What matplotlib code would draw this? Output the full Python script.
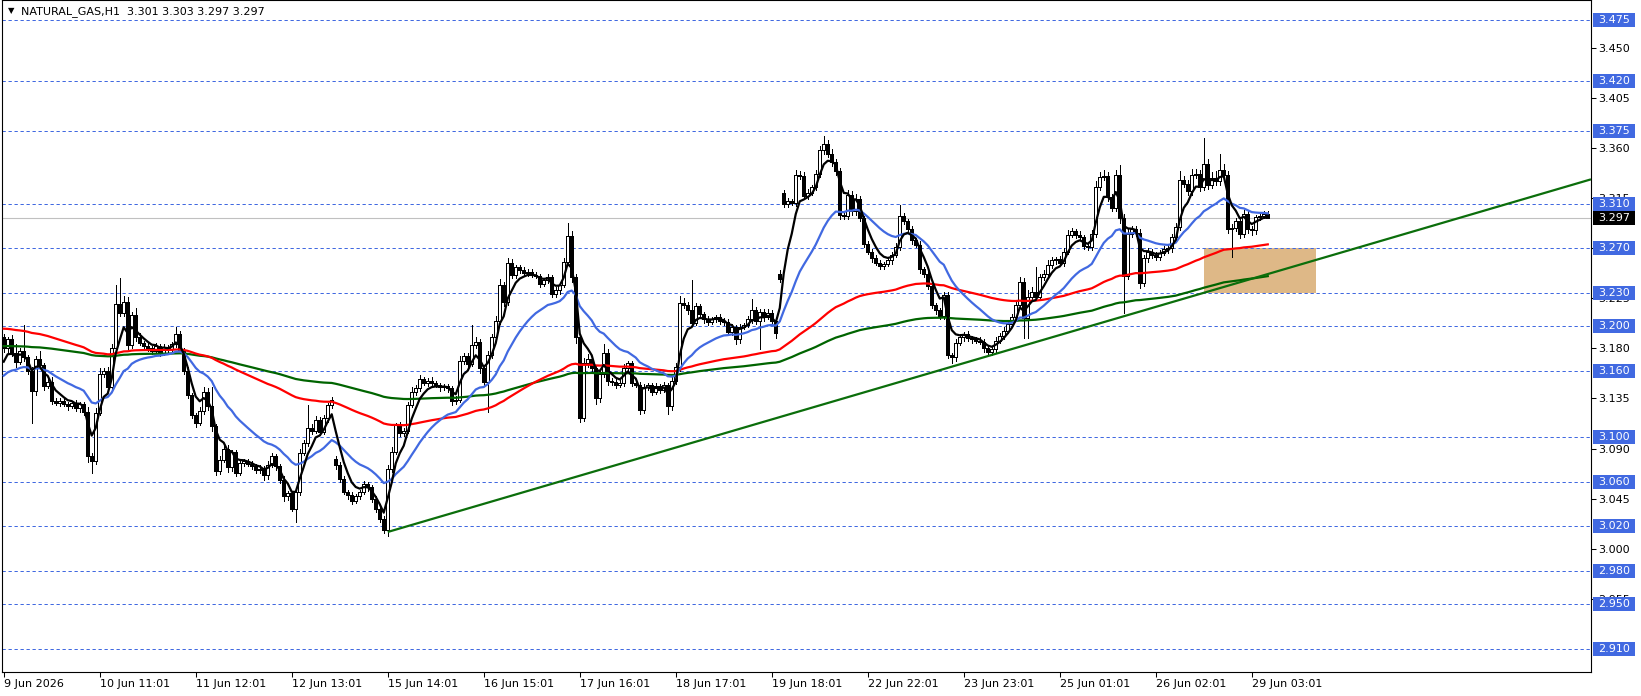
import matplotlib
matplotlib.use('Agg')
import matplotlib.pyplot as plt
import matplotlib.transforms as mtransforms
from matplotlib.patches import Rectangle
import numpy as np

# hourly closes, NATURAL_GAS H1 (bar 0 = 9 Jun 2026)
closes = [
    3.180, 3.188, 3.176, 3.168, 3.178, 3.172, 3.160, 3.142, 3.170, 3.165,
    3.146, 3.150, 3.133, 3.131, 3.133, 3.130, 3.128, 3.131, 3.126, 3.130,
    3.123, 3.083, 3.079, 3.122, 3.157, 3.160, 3.145, 3.180, 3.220, 3.212,
    3.222, 3.183, 3.210, 3.190, 3.185, 3.182, 3.180, 3.178, 3.182, 3.176,
    3.181, 3.179, 3.184, 3.193, 3.178, 3.160, 3.138, 3.120, 3.113, 3.124,
    3.141, 3.128, 3.110, 3.070, 3.080, 3.090, 3.073, 3.087, 3.068, 3.077,
    3.079, 3.076, 3.074, 3.071, 3.072, 3.066, 3.075, 3.083, 3.074, 3.062,
    3.047, 3.050, 3.036, 3.051, 3.086, 3.095, 3.108, 3.106, 3.116, 3.105,
    3.117, 3.129, 3.134, 3.075, 3.063, 3.051, 3.048, 3.043, 3.047, 3.051,
    3.058, 3.055, 3.045, 3.036, 3.027, 3.017, 3.072, 3.087, 3.111, 3.104,
    3.106, 3.129, 3.141, 3.144, 3.152, 3.149, 3.151, 3.149, 3.147, 3.145,
    3.146, 3.144, 3.133, 3.134, 3.169, 3.173, 3.166, 3.183, 3.186, 3.162,
    3.150, 3.174, 3.190, 3.205, 3.237, 3.222, 3.257, 3.246, 3.253, 3.250,
    3.248, 3.249, 3.246, 3.245, 3.238, 3.241, 3.244, 3.229, 3.232, 3.237,
    3.258, 3.281, 3.244, 3.190, 3.117, 3.167, 3.170, 3.162, 3.135, 3.157,
    3.176, 3.151, 3.150, 3.147, 3.149, 3.162, 3.167, 3.149, 3.147, 3.125,
    3.145, 3.147, 3.141, 3.146, 3.143, 3.147, 3.128, 3.151, 3.163, 3.221,
    3.219, 3.214, 3.203, 3.218, 3.211, 3.206, 3.204, 3.206, 3.208, 3.205,
    3.204, 3.195, 3.199, 3.188, 3.199, 3.201, 3.206, 3.214, 3.205, 3.213,
    3.208, 3.212, 3.205, 3.194, 3.242, 3.310, 3.312, 3.311, 3.336, 3.335,
    3.317, 3.320, 3.325, 3.337, 3.358, 3.364, 3.355, 3.347, 3.339, 3.300,
    3.299, 3.318, 3.303, 3.314, 3.297, 3.274, 3.267, 3.261, 3.257, 3.254,
    3.256, 3.259, 3.264, 3.271, 3.299, 3.294, 3.287, 3.277, 3.273, 3.251,
    3.247, 3.236, 3.219, 3.214, 3.209, 3.228, 3.174, 3.172, 3.185, 3.190,
    3.193, 3.189, 3.188, 3.187, 3.186, 3.180, 3.177, 3.179, 3.187, 3.191,
    3.196, 3.202, 3.208, 3.219, 3.240, 3.207, 3.226, 3.231, 3.226, 3.244,
    3.247, 3.255, 3.259, 3.260, 3.257, 3.267, 3.282, 3.285, 3.282, 3.280,
    3.272, 3.271, 3.283, 3.325, 3.334, 3.335, 3.316, 3.306, 3.336, 3.297,
    3.245, 3.283, 3.287, 3.284, 3.239, 3.261, 3.267, 3.264, 3.262, 3.266,
    3.269, 3.270, 3.280, 3.289, 3.331, 3.328, 3.321, 3.336, 3.337, 3.325,
    3.346, 3.327, 3.333, 3.330, 3.340, 3.336, 3.287, 3.288, 3.294, 3.283,
    3.301, 3.287, 3.286, 3.298, 3.299, 3.301, 3.297,
]
# opens follow the previous close except on these bars (first bar, gaps)
open_fix = {0: 3.190, 83: 3.081, 194: 3.247, 195: 3.320}

# wick lengths beyond the body, in 0.001
wick_up = [
    3, 2, 4, 8, 2, 23, 2, 3, 3, 8,   2, 3, 4, 2, 2, 3, 2, 2, 3, 2,
    2, 4, 3, 4, 5, 2, 3, 4, 17, 23,  5, 4, 3, 6, 4, 2, 3, 2, 3, 2,
    3, 2, 2, 6, 3, 2, 3, 2, 2, 3,    4, 3, 17, 2, 3, 4, 3, 2, 2, 3,
    2, 2, 3, 2, 3, 2, 4, 3, 2, 2,    3, 2, 2, 3, 4, 3, 21, 4, 3, 2,
    3, 2, 2, 2, 3, 2, 2, 3, 2, 2,    3, 2, 2, 2, 2, 2, 3, 4, 2, 3,
    2, 3, 4, 3, 4, 2, 2, 3, 2, 2,    2, 2, 2, 3, 4, 3, 3, 18, 4, 2,
    2, 4, 3, 4, 5, 3, 4, 3, 2, 2,    3, 2, 2, 3, 2, 2, 3, 2, 3, 2,
    3, 12, 4, 3, 2, 4, 5, 3, 2, 4,   8, 3, 2, 2, 3, 4, 2, 2, 2, 3,
    3, 2, 2, 3, 2, 3, 2, 3, 4, 6,    4, 3, 27, 3, 2, 2, 3, 2, 2, 3,
    2, 2, 3, 2, 3, 2, 3, 10, 3, 2,   2, 3, 2, 2, 3, 2, 3, 2, 4, 3,
    3, 3, 2, 3, 4, 7, 3, 4, 3, 3,    3, 4, 3, 5, 3, 2, 2, 2, 3, 2,
    2, 3, 3, 4, 10, 3, 2, 3, 2, 3,   2, 3, 2, 2, 2, 3, 3, 2, 3, 3,
    2, 3, 2, 2, 3, 2, 2, 2, 3, 3,    3, 2, 3, 3, 4, 3, 6, 4, 22, 3,
    3, 4, 3, 2, 3, 3, 4, 3, 2, 3,    2, 3, 3, 5, 4, 5, 3, 3, 4, 9,
    4, 4, 3, 3, 3, 3, 3, 2, 3, 2,    3, 3, 3, 4, 8, 4, 3, 5, 4, 3,
    23, 4, 5, 6, 15, 6, 3, 4, 3, 4,  3, 3, 3, 2, 3, 2, 2,
]
wick_dn = [
    3, 4, 3, 5, 2, 3, 3, 29, 4, 3,   3, 2, 3, 2, 3, 2, 3, 2, 2, 3,
    3, 5, 11, 3, 2, 3, 4, 2, 3, 3,   3, 4, 3, 3, 2, 3, 2, 3, 2, 3,
    2, 3, 2, 3, 2, 3, 3, 3, 4, 2,    3, 3, 4, 4, 3, 2, 4, 3, 3, 2,
    3, 2, 2, 3, 3, 4, 3, 2, 3, 3,    4, 3, 2, 12, 3, 2, 3, 3, 2, 3,
    2, 3, 3, 3, 3, 2, 3, 3, 2, 2,    2, 3, 3, 3, 3, 3, 6, 3, 2, 3,
    3, 2, 2, 3, 2, 2, 3, 2, 2, 3,    2, 3, 4, 3, 2, 3, 3, 2, 3, 4,
    4, 27, 3, 2, 3, 4, 3, 3, 3, 2,   2, 3, 2, 2, 3, 2, 2, 3, 3, 3,
    2, 3, 4, 5, 3, 2, 4, 3, 5, 3,    3, 4, 3, 3, 2, 3, 3, 3, 2, 4,
    3, 2, 3, 2, 3, 2, 7, 3, 3, 3,    3, 3, 3, 2, 3, 3, 3, 2, 2, 3,
    3, 3, 3, 4, 3, 2, 2, 3, 3, 26,   3, 2, 3, 5, 2, 3, 3, 2, 3, 3,
    3, 3, 2, 3, 3, 3, 3, 3, 3, 4,    3, 3, 3, 3, 3, 3, 2, 3, 2, 3,
    3, 2, 3, 2, 3, 2, 3, 3, 2, 3,    3, 3, 3, 3, 3, 3, 3, 5, 3, 2,
    3, 2, 3, 2, 2, 3, 3, 3, 3, 2,    3, 2, 3, 2, 3, 18, 18, 3, 3, 3,
    3, 2, 3, 3, 2, 3, 2, 2, 3, 3,    3, 3, 3, 3, 3, 3, 4, 3, 3, 4,
    33, 3, 3, 3, 5, 3, 3, 3, 3, 3,   2, 3, 3, 3, 3, 3, 3, 3, 3, 4,
    3, 4, 3, 3, 3, 3, 3, 25, 3, 4,   3, 3, 4, 3, 3, 2, 0,
]

# moving averages: (period, value just before bar 0, colour)
ma_specs = [
    (200, 3.182, '#006400'),
    (100, 3.198, '#ff0000'),
    (21, 3.153, '#4169e1'),
    (5, 3.162, '#000000'),
]

levels = [3.475, 3.420, 3.375, 3.310, 3.270, 3.230, 3.200, 3.160,
          3.100, 3.060, 3.020, 2.980, 2.950, 2.910]
last_price = 3.297
axis_ticks = [2.955, 3.000, 3.045, 3.090, 3.135, 3.180, 3.225, 3.270,
              3.315, 3.360, 3.405, 3.450]

# trend line anchors (bar, price), drawn as a ray to the right
trend_pts = [(96, 3.015), (246, 3.173)]
# support zone (bar from, bar to, price low, price high)
zone = (300, 328, 3.230, 3.270)

date_ticks = list(range(0, 313, 24))
date_labels = ['9 Jun 2026', '10 Jun 11:01', '11 Jun 12:01', '12 Jun 13:01',
               '15 Jun 14:01', '16 Jun 15:01', '17 Jun 16:01', '18 Jun 17:01',
               '19 Jun 18:01', '22 Jun 22:01', '23 Jun 23:01', '25 Jun 01:01',
               '26 Jun 02:01', '29 Jun 03:01']


def ema(vals, n, seed):
    a = 2.0 / (n + 1)
    out = []
    v = seed
    for c in vals:
        v = v + a * (c - v)
        out.append(v)
    return np.array(out)


W, H = 1641, 696
plt.rcParams['font.family'] = ['DejaVu Sans']
fig = plt.figure(figsize=(W / 100, H / 100), dpi=100)
fig.patch.set_facecolor('white')
ax = fig.add_axes([2 / W, 24 / H, 1589 / W, 672 / H])

c = np.array(closes)
o = np.r_[np.nan, c[:-1]]
for k, v in open_fix.items():
    o[k] = v
hi = np.maximum(o, c) + np.array(wick_up) / 1000.0
lo = np.minimum(o, c) - np.array(wick_dn) / 1000.0
x = np.arange(len(c))

# levels, current price, zone, trend line
for lv in levels:
    ax.axhline(lv, color='#4169e1', lw=0.72, ls=(0, (3.3, 2.7)), zorder=1.5)
ax.axhline(last_price, color='#c0c0c0', lw=0.8, zorder=1.4)
ax.add_patch(Rectangle((zone[0], zone[2]), zone[1] - zone[0], zone[3] - zone[2],
                       fc='#deb887', ec='none', zorder=1.2))

xmax = 396.8
(x0, y0), (x1, y1) = trend_pts
slope = (y1 - y0) / (x1 - x0)
ax.plot([x0, xmax], [y0, y0 + slope * (xmax - x0)], color='#0b6e0b', lw=1.6,
        zorder=5, solid_capstyle='butt')

# candles: thin wicks, 3 px bodies, white = up, black = down
ax.vlines(x, lo, hi, color='black', lw=0.72, zorder=2, antialiased=False)
up = c >= o
ax.bar(x[up], (c - o)[up], bottom=o[up], width=0.7, facecolor='white',
       edgecolor='black', linewidth=0.72, zorder=3, antialiased=False)
ax.bar(x[~up], (o - c)[~up], bottom=c[~up], width=0.7, facecolor='black',
       edgecolor='black', linewidth=0.72, zorder=3, antialiased=False)

for n, seed, col in ma_specs:
    ax.plot(x, ema(c, n, seed), color=col, lw=1.6, zorder=4)

ax.set_xlim(-0.425, xmax)
ax.set_ylim(3.475 - 652 / 1113.0, 3.475 + 20 / 1113.0)

ax.set_xticks(date_ticks)
ax.set_xticklabels(date_labels, ha='left', fontsize=8)
ax.yaxis.tick_right()
ax.set_yticks(axis_ticks)
ax.set_yticklabels(['%.3f' % t for t in axis_ticks], fontsize=8)
ax.tick_params(axis='both', direction='out', length=3.6, width=0.75, pad=1.5,
               colors='black')
for sp in ax.spines.values():
    sp.set_linewidth(0.8)
    sp.set_color('black')

# price labels on the right scale
tr = mtransforms.blended_transform_factory(ax.transAxes, ax.transData)
bh = 14 / 1113.0
for lv in levels:
    ax.add_patch(Rectangle((1.00126, lv - bh / 2), 0.02643, bh, transform=tr,
                           fc='#4169e1', ec='none', zorder=6, clip_on=False))
    ax.text(1.0044, lv, '%.3f' % lv, transform=tr, color='white', fontsize=8,
            va='center', ha='left', zorder=7, clip_on=False)
ax.add_patch(Rectangle((1.00126, last_price - bh / 2), 0.02643, bh, transform=tr,
                       fc='black', ec='none', zorder=6, clip_on=False))
ax.text(1.0044, last_price, '%.3f' % last_price, transform=tr, color='white',
        fontsize=8, va='center', ha='left', zorder=7, clip_on=False)

fig.text(11 / W, 1 - 11 / H, '\u25bc', fontsize=6, ha='center', va='center')
fig.text(21 / W, 1 - 12 / H, 'NATURAL_GAS,H1  3.301 3.303 3.297 3.297',
         fontsize=8, ha='left', va='center')

fig.savefig('out.png', dpi=100, facecolor='white')
